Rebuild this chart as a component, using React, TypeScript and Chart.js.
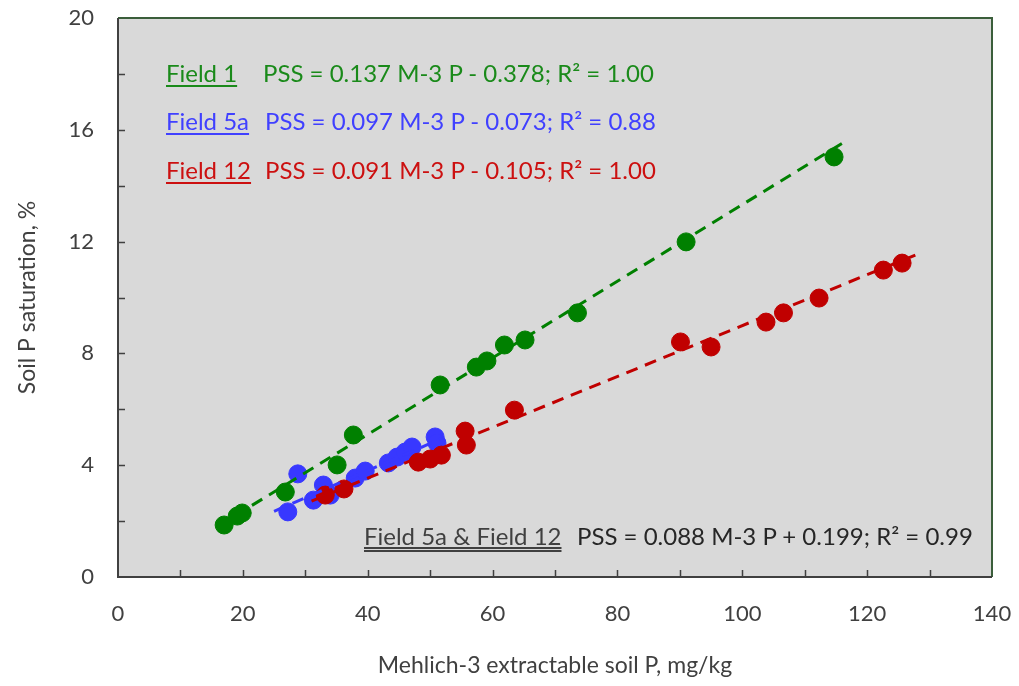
import React, { useEffect, useRef } from "react";
import { Chart, registerables } from "chart.js";

Chart.register(...registerables);

// Field 1 (green)
const field1X = [17.0, 19.1, 19.9, 26.8, 35.1, 37.7, 51.6, 57.4, 59.1, 61.9, 65.2, 73.6, 91.0, 114.7];
const field1Y = [1.86, 2.18, 2.29, 3.04, 4.01, 5.08, 6.87, 7.51, 7.73, 8.3, 8.48, 9.45, 11.99, 15.03];
// Field 5a (blue)
const field5aX = [27.2, 28.8, 31.3, 32.9, 34.0, 38.0, 39.6, 43.3, 44.7, 46.0, 47.1, 50.8, 51.1];
const field5aY = [2.33, 3.69, 2.75, 3.29, 2.93, 3.54, 3.79, 4.08, 4.29, 4.47, 4.65, 5.01, 4.79];
// Field 12 (red)
const field12X = [33.2, 36.2, 48.1, 50.0, 51.8, 55.6, 55.8, 63.5, 90.1, 95.0, 103.8, 106.6, 112.3, 122.6, 125.6];
const field12Y = [2.93, 3.15, 4.11, 4.22, 4.36, 5.22, 4.72, 5.97, 8.41, 8.23, 9.12, 9.45, 9.98, 10.98, 11.23];

// Trend lines (from the printed equations) and their x extents
const trendSlope = [0.137, 0.097, 0.091];
const trendIntercept = [-0.378, -0.073, -0.105];
const trendStartX = [16, 25, 31];
const trendEndX = [117, 52, 128];

const xTickStep = 20;
const yTickStep = 4;
const xMinorStep = 10;
const yMinorStep = 2;

const GREEN = "#008000";
const BLUE = "#3838ff";
const RED = "#c00000";

const toPoints = (xs: number[], ys: number[]) => xs.map((x, i) => ({ x, y: ys[i] }));
const trend = (i: number) => [
  { x: trendStartX[i], y: trendSlope[i] * trendStartX[i] + trendIntercept[i] },
  { x: trendEndX[i], y: trendSlope[i] * trendEndX[i] + trendIntercept[i] },
];

const decoPlugin = {
  id: "deco",
  beforeDraw(chart: any) {
    const { ctx, chartArea } = chart;
    ctx.save();
    ctx.fillStyle = "#d9d9d9";
    ctx.fillRect(chartArea.left, chartArea.top, chartArea.right - chartArea.left, chartArea.bottom - chartArea.top);
    ctx.restore();
  },
  beforeDatasetsDraw(chart: any) {
    const { ctx, chartArea, scales } = chart;
    const { left, right, top, bottom } = chartArea;
    ctx.save();
    ctx.strokeStyle = "#3b5e3b";
    ctx.lineWidth = 2;
    ctx.beginPath();
    ctx.moveTo(left, top);
    ctx.lineTo(right, top);
    ctx.lineTo(right, bottom);
    ctx.stroke();
    ctx.strokeStyle = "#404040";
    ctx.lineWidth = 1.5;
    ctx.beginPath();
    for (let v = xMinorStep; v < 140; v += xMinorStep) {
      const px = Math.round(scales.x.getPixelForValue(v)) + 0.5;
      ctx.moveTo(px, bottom);
      ctx.lineTo(px, bottom - 7);
    }
    for (let v = yMinorStep; v < 20; v += yMinorStep) {
      const py = Math.round(scales.y.getPixelForValue(v)) + 0.5;
      ctx.moveTo(left, py);
      ctx.lineTo(left + 7, py);
    }
    ctx.stroke();
    ctx.strokeStyle = "#404040";
    ctx.lineWidth = 2;
    ctx.beginPath();
    ctx.moveTo(left, top);
    ctx.lineTo(left, bottom);
    ctx.lineTo(right, bottom);
    ctx.stroke();
    ctx.restore();
  },
};

const textBase: React.CSSProperties = {
  position: "absolute",
  fontFamily: "Lato, 'Open Sans', sans-serif",
  fontSize: 24,
  lineHeight: "28px",
  whiteSpace: "nowrap",
};

const underline: React.CSSProperties = {
  textDecorationLine: "underline",
  textDecorationThickness: "2px",
  textUnderlineOffset: "3px",
};

export default function App() {
  const canvasRef = useRef<HTMLCanvasElement | null>(null);

  useEffect(() => {
    if (!canvasRef.current) return;
    Chart.defaults.font.family = "Lato, 'Open Sans', sans-serif";
    const zeroPad = (scale: any) => {
      scale.paddingLeft = 0;
      scale.paddingRight = 0;
      scale.paddingTop = 0;
      scale.paddingBottom = 0;
    };
    const chart = new Chart(canvasRef.current, {
      type: "scatter",
      data: {
        datasets: [
          { type: "line", label: "Field 1 trend", data: trend(0), borderColor: GREEN, borderWidth: 3, borderDash: [12, 8], pointRadius: 0, fill: false, order: 0 },
          { type: "line", label: "Field 5a trend", data: trend(1), borderColor: BLUE, borderWidth: 3, borderDash: [12, 8], pointRadius: 0, fill: false, order: 0 },
          { type: "line", label: "Field 12 trend", data: trend(2), borderColor: RED, borderWidth: 3, borderDash: [12, 8], pointRadius: 0, fill: false, order: 0 },
          { label: "Field 12", data: toPoints(field12X, field12Y), backgroundColor: RED, borderColor: RED, pointRadius: 9, order: 1 },
          { label: "Field 5a", data: toPoints(field5aX, field5aY), backgroundColor: BLUE, borderColor: BLUE, pointRadius: 9, order: 2 },
          { label: "Field 1", data: toPoints(field1X, field1Y), backgroundColor: GREEN, borderColor: GREEN, pointRadius: 9, order: 3 },
        ],
      },
      options: {
        animation: false,
        responsive: false,
        maintainAspectRatio: false,
        layout: { padding: { top: 18, right: 27, left: 0, bottom: 0 } },
        plugins: { legend: { display: false }, tooltip: { enabled: false } },
        scales: {
          x: {
            type: "linear",
            min: 0,
            max: 140,
            grid: { display: false, drawTicks: false },
            border: { display: false },
            ticks: { stepSize: xTickStep, padding: 24, color: "#404040", font: { size: 22 }, maxRotation: 0 },
            title: {
              display: true,
              text: "Mehlich-3 extractable soil P, mg/kg",
              color: "#404040",
              font: { size: 23 },
              padding: { top: 0, bottom: 7 },
            },
            afterFit: (scale: any) => {
              scale.height = 109;
              zeroPad(scale);
            },
          },
          y: {
            type: "linear",
            min: 0,
            max: 20,
            grid: { display: false, drawTicks: false },
            border: { display: false },
            ticks: { stepSize: yTickStep, padding: 24, color: "#404040", font: { size: 22 } },
            title: {
              display: true,
              text: "Soil P saturation, %",
              color: "#404040",
              font: { size: 23 },
              padding: { top: 14, bottom: 0 },
            },
            afterFit: (scale: any) => {
              scale.width = 118;
              zeroPad(scale);
            },
          },
        },
      },
      plugins: [decoPlugin],
    } as any);
    return () => chart.destroy();
  }, []);

  return (
    <div style={{ position: "fixed", left: 0, top: 0, width: 1019, height: 686, background: "#ffffff", overflow: "hidden" }}>
      <canvas ref={canvasRef} width={1019} height={686} style={{ position: "absolute", left: 0, top: 0, width: 1019, height: 686 }} />
      <div style={{ ...textBase, ...underline, left: 166, top: 59, color: "#1a8a1a" }}>Field 1</div>
      <div style={{ ...textBase, left: 263, top: 59, color: "#1a8a1a" }}>PSS = 0.137 M-3 P - 0.378; R² = 1.00</div>
      <div style={{ ...textBase, ...underline, left: 166, top: 107, color: "#4040ff" }}>Field 5a</div>
      <div style={{ ...textBase, left: 265, top: 107, color: "#4040ff" }}>PSS = 0.097 M-3 P - 0.073; R² = 0.88</div>
      <div style={{ ...textBase, ...underline, left: 166, top: 156, color: "#cc1010" }}>Field 12</div>
      <div style={{ ...textBase, left: 265, top: 156, color: "#cc1010" }}>PSS = 0.091 M-3 P - 0.105; R² = 1.00</div>
      <div style={{ ...textBase, left: 364, top: 522, color: "#404040", textDecorationLine: "underline", textDecorationStyle: "double", textUnderlineOffset: "2px" }}>Field 5a &amp; Field 12</div>
      <div style={{ ...textBase, left: 577, top: 522, color: "#262626" }}>PSS = 0.088 M-3 P + 0.199; R² = 0.99</div>
    </div>
  );
}
